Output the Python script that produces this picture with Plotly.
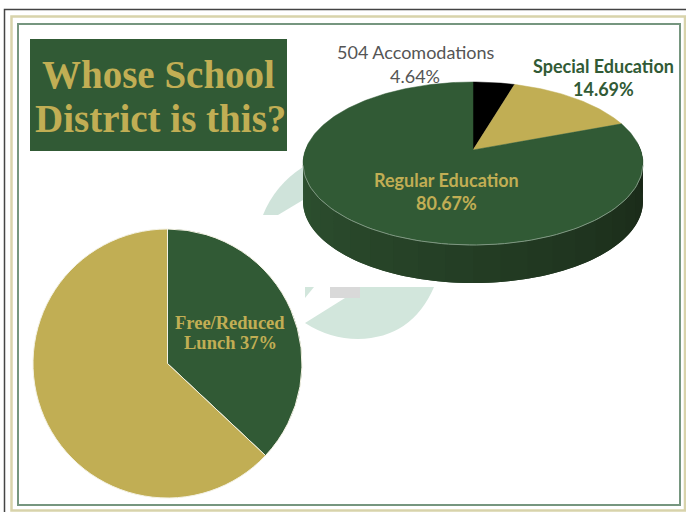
import numpy as np
import plotly.graph_objects as go

# ---- data ----
program_labels = ["504 Accomodations", "Special Education", "Regular Education"]
program_values = [4.64, 14.69, 80.67]
lunch_labels = ["Free/Reduced Lunch", "Other"]
lunch_values = [37, 63]
title_lines = ["Whose School", "District is this?"]

GREEN = "#315a35"
GOLD = "#c1ae54"
program_colors = ["#000000", GOLD, GREEN]
lunch_colors = [GREEN, GOLD]

W, H = 686, 512
# perspective disc geometry (pixels)
CX, CY, A, B, OFF, K, DEPTH = 473, 163.5, 167.6, 81.5, 13.5, 0.1656, 38


def project(frac):
    t = 2 * np.pi * np.asarray(frac, dtype=float)
    u, v = np.sin(t), np.cos(t)
    d = 1 + K * v
    return CX + A * u / d, CY - (B * v + OFF) / d


apex_x, apex_y = project(0)[0], CY - OFF

fig = go.Figure()

# side wall, shaded from mid green on the left to near black on the right
wall_start, wall_end = 0.235, 0.765
edges = np.linspace(wall_end, wall_start, 25)
c0, c1 = np.array([47, 84, 50]), np.array([24, 38, 22])
for i in range(len(edges) - 1):
    # each band runs on under the next one so no seam shows
    stop = edges[min(i + 2, len(edges) - 1)]
    f = np.linspace(edges[i], stop, 8)
    x, y = project(f)
    mix = i / (len(edges) - 2)
    col = c0 + (c1 - c0) * mix
    colour = f"rgb({col[0]:.0f},{col[1]:.0f},{col[2]:.0f})"
    fig.add_trace(go.Scatter(
        x=np.r_[x, x[::-1]], y=np.r_[y, y[::-1] + DEPTH], mode="none",
        fill="toself", fillcolor=colour,
        hoverinfo="skip", showlegend=False))

# top face: slices are placed from the cumulative values
shares = np.array(program_values) / sum(program_values)
ends = np.cumsum(shares)
starts = np.r_[0, ends[:-1]]
for s, e, name, colour in zip(starts, ends, program_labels, program_colors):
    f = np.linspace(s, e, max(int((e - s) * 360), 3))
    x, y = project(f)
    fig.add_trace(go.Scatter(
        x=np.r_[apex_x, x, apex_x], y=np.r_[apex_y, y, apex_y], mode="lines",
        fill="toself", fillcolor=colour, line=dict(color=colour, width=0.5),
        name=name, showlegend=False))

# faint highlight on the front rim
f = np.linspace(0.28, 0.72, 80)
x, y = project(f)
fig.add_trace(go.Scatter(x=x, y=y, mode="lines", line=dict(color="#7f9782", width=1),
                         hoverinfo="skip", showlegend=False))

# flat pie
fig.add_trace(go.Pie(
    labels=lunch_labels, values=lunch_values, sort=False, direction="clockwise",
    rotation=0, marker=dict(colors=lunch_colors, line=dict(color="#f4f2e4", width=1)),
    textinfo="none", showlegend=False,
    domain=dict(x=[33 / W, 302 / W], y=[1 - 498 / H, 1 - 229 / H])))

shapes = [
    # frame lines
    dict(type="rect", x0=4.5, y0=9.5, x1=800, y1=800, line=dict(color="#444444", width=1.5), layer="below"),
    dict(type="rect", x0=11.5, y0=16.5, x1=685, y1=510.5, line=dict(color="#d8d3ab", width=2.5), layer="below"),
    dict(type="rect", x0=18, y0=24, x1=680, y1=505, line=dict(color="#76967f", width=2), layer="below"),
    # title box
    dict(type="rect", x0=30, y0=39, x1=287, y1=151, fillcolor=GREEN, line=dict(width=0), layer="below"),
    # watermark fragments
    dict(type="path", path="M263,215 Q275,185 303,167 L303,200 L278,215 Z",
         fillcolor="#cfe3da", line=dict(width=0), layer="below"),
    dict(type="path", path="M305,323 L345,298 L360,298 L360,287 L434,287 Q412,338 358,339 Q330,339 305,323 Z",
         fillcolor="#d2e6dc", line=dict(width=0), layer="below"),
    dict(type="path", path="M305,287 L314,287 L305,298 Z", fillcolor="#d2e6dc", line=dict(width=0), layer="below"),
    dict(type="rect", x0=330, y0=287, x1=360, y1=298, fillcolor="#d9d9d9", line=dict(width=0), layer="below"),
]

SERIF = "Liberation Serif"
SANS = "Lato"


def note(x, y, text, size, colour, family, bold=True):
    return dict(x=x, y=y, xref="x", yref="y", text=f"<b>{text}</b>" if bold else text,
                showarrow=False, align="center",
                font=dict(family=family, size=size, color=colour))


annotations = [
    note(158, 74, title_lines[0], 39, GOLD, SERIF),
    note(160, 118, title_lines[1], 39, GOLD, SERIF),
    note(446, 180, program_labels[2], 18, GOLD, SANS),
    note(446, 203, f"{program_values[2]:.2f}%", 18, GOLD, SANS),
    note(416, 52, program_labels[0], 18, "#555555", SANS, bold=False),
    note(415, 76, f"{program_values[0]:.2f}%", 18, "#555555", SANS, bold=False),
    note(603, 66, program_labels[1], 18, GREEN, SANS),
    note(603, 89, f"{program_values[1]:.2f}%", 18, GREEN, SANS),
    note(230, 323, lunch_labels[0].replace(" Lunch", ""), 18.5, GOLD, SERIF),
    note(230, 343, f"Lunch {lunch_values[0]}%", 18.5, GOLD, SERIF),
]

fig.update_layout(
    width=W, height=H, margin=dict(l=0, r=0, t=0, b=0), autosize=False,
    paper_bgcolor="white", plot_bgcolor="white",
    xaxis=dict(range=[0, W], visible=False, fixedrange=True),
    yaxis=dict(range=[H, 0], visible=False, fixedrange=True),
    shapes=shapes, annotations=annotations)

fig.write_html("out.html", config=dict(displayModeBar=False),
               post_script="document.body.style.margin='0';document.body.style.overflow='hidden';")
